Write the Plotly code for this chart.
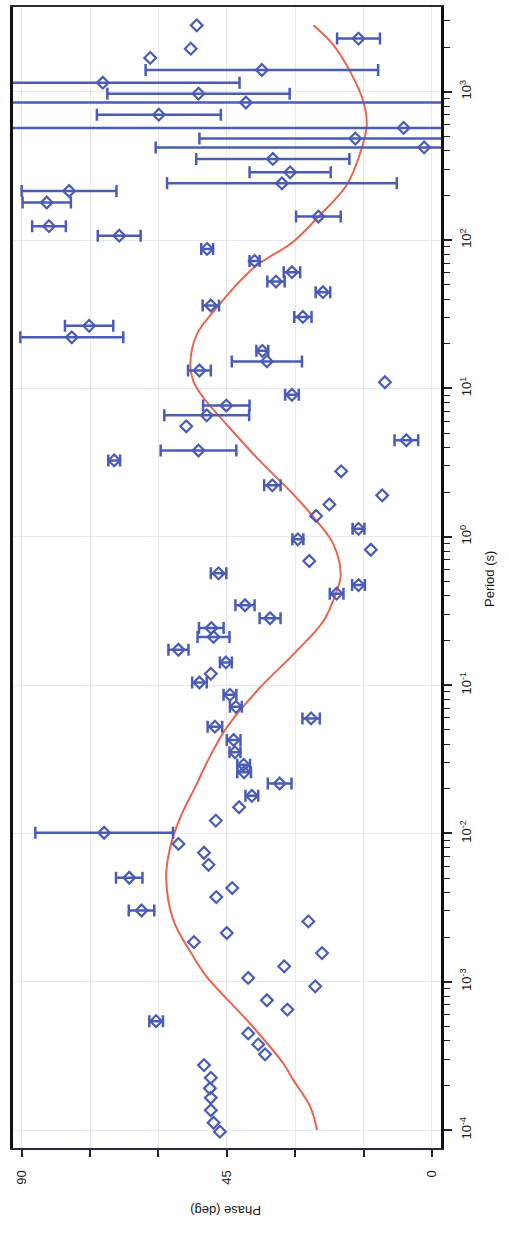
import plotly.graph_objects as go

# Measured phase vs. period, points carrying a phase uncertainty
period_err = [2280, 1400, 1150, 970, 845, 700, 570, 483, 421, 352, 286, 241, 214,
              179, 124, 107, 144, 87.1, 72.3, 60.7, 52.5, 44.5, 36.2, 30.3, 26.4,
              22.1, 17.9, 15.2, 13.2, 9.06, 7.66, 6.58, 4.47, 3.81, 3.27, 2.22,
              1.13, 0.96, 0.566, 0.472, 0.413, 0.345, 0.282, 0.242, 0.211, 0.173,
              0.142, 0.104, 0.0859, 0.0713, 0.0596, 0.0524, 0.0426, 0.0352, 0.0290,
              0.0258, 0.0217, 0.0179, 0.0101, 0.00502, 0.00302, 0.000542]
phase_err = [16.1, 37.3, 72.2, 51.2, 40.8, 59.9, 6.2, 16.8, 1.7, 34.9, 31.1, 32.9, 79.6,
             84.5, 84.0, 68.6, 24.9, 49.3, 38.9, 30.7, 34.2, 23.9, 48.5, 28.3, 75.2,
             79.0, 37.2, 36.2, 51.0, 30.7, 45.1, 49.4, 5.6, 51.2, 69.7, 35.0,
             16.1, 29.4, 46.8, 16.1, 20.9, 41.0, 35.5, 48.4, 47.9, 55.6,
             45.2, 51.0, 44.3, 43.0, 26.5, 47.6, 43.5, 43.2, 41.3,
             41.2, 33.4, 39.5, 71.9, 66.4, 63.7, 60.5]
phase_unc = [4.7, 25.5, 30.0, 20.0, 60.0, 13.6, 95.0, 34.2, 58.9, 16.8, 8.9, 25.2, 10.4,
             5.3, 3.7, 4.7, 4.9, 1.3, 1.1, 1.8, 1.9, 1.6, 1.8, 1.9, 5.3,
             11.3, 1.3, 7.7, 2.5, 1.5, 5.1, 9.3, 2.6, 8.3, 1.3, 1.8,
             1.3, 1.2, 1.7, 1.4, 1.5, 2.1, 2.3, 2.7, 3.5, 2.2,
             1.3, 1.6, 1.4, 1.3, 1.9, 1.6, 1.5, 1.2, 1.4,
             1.5, 2.6, 1.4, 15.1, 2.9, 2.8, 1.5]

# Measured phase vs. period, points without an uncertainty
period_pts = [2800, 1950, 1690, 11.0, 5.55, 2.76, 1.90, 1.65, 1.38, 0.817, 0.686,
              0.119, 0.0150, 0.0122, 0.00849, 0.00740, 0.00614, 0.00428, 0.00372,
              0.00255, 0.00213, 0.00185, 0.00156, 0.00127, 0.00106, 0.000931,
              0.000750, 0.000649, 0.000448, 0.000378, 0.000324, 0.000274, 0.000225,
              0.000191, 0.000165, 0.000136, 0.000112, 0.0000975]
phase_pts = [51.6, 52.9, 61.8, 10.3, 53.9, 19.9, 10.9, 22.5, 25.4, 13.4, 26.9,
             48.5, 42.3, 47.4, 55.6, 50.0, 49.0, 43.8, 47.3,
             27.1, 45.0, 52.2, 24.1, 32.4, 40.3, 25.6,
             36.2, 31.7, 40.3, 38.1, 36.6, 50.0, 48.5,
             48.7, 48.5, 48.5, 47.9, 46.5]

# Model response curve
period_fit = [1.0e-4, 1.44e-4, 2.17e-4, 2.81e-4, 5.22e-4, 1.08e-3, 1.47e-3, 2.59e-3,
              5.07e-3, 8.05e-3, 1.28e-2, 2.15e-2, 2.95e-2, 5.18e-2, 0.0962, 0.161,
              0.270, 0.431, 0.55, 0.887, 1.27, 1.93, 3.23, 5.70, 8.61, 11.1, 14.5,
              23.0, 33.0, 64.6, 97.5, 148, 235, 414, 596, 853, 1360, 2060, 2800]
phase_fit = [25.2, 26.7, 30.4, 32.6, 39.9, 49.4, 52.3, 56.7,
             58.3, 57.4, 55.2, 51.6, 49.5, 45.0, 37.7, 30.4,
             23.8, 20.9, 20.0, 21.6, 25.2, 30.4, 37.7, 45.0, 50.1, 52.3, 53.0,
             51.6, 47.9, 39.2, 30.4, 24.5, 18.7, 15.4, 14.3, 15.0, 17.9, 21.6, 26.0]

# Axis ticks
phase_ticks = [0, 15, 30, 45, 60, 75, 90]
phase_ticktext = ["0", "", "", "45", "", "", "90"]
period_ticks = [1e-4, 1e-3, 1e-2, 1e-1, 1e0, 1e1, 1e2, 1e3]
period_ticktext = ["10<sup>-4</sup>", "10<sup>-3</sup>", "10<sup>-2</sup>",
                   "10<sup>-1</sup>", "10<sup>0</sup>", "10<sup>1</sup>",
                   "10<sup>2</sup>", "10<sup>3</sup>"]
period_minor = [m * d for d in [1e-4, 1e-3, 1e-2, 1e-1, 1e0, 1e1, 1e2, 1e3]
                for m in range(2, 10)]

BLUE = "#4a5cb6"
RED = "#e8654f"
FONT = "Liberation Sans, Arial, sans-serif"

fig = go.Figure()

fig.add_trace(go.Scatter(
    x=phase_fit, y=period_fit, mode="lines", line_shape="spline",
    line=dict(color=RED, width=2), hoverinfo="skip", showlegend=False,
))

fig.add_trace(go.Scatter(
    x=phase_err, y=period_err, mode="markers",
    marker=dict(symbol="diamond-open", size=9, color=BLUE,
                line=dict(color=BLUE, width=2.2)),
    error_x=dict(type="data", array=phase_unc, symmetric=True,
                 color=BLUE, thickness=2.5, width=6),
    showlegend=False,
))

fig.add_trace(go.Scatter(
    x=phase_pts, y=period_pts, mode="markers",
    marker=dict(symbol="diamond-open", size=9, color=BLUE,
                line=dict(color=BLUE, width=2.2)),
    showlegend=False,
))

fig.update_layout(
    width=509, height=1234,
    margin=dict(l=13, r=68, t=5, b=86),
    paper_bgcolor="white", plot_bgcolor="white",
    font=dict(family=FONT, size=13, color="#1a1a1a"),
    xaxis=dict(
        range=[91.9, -2.0],
        tickvals=phase_ticks, ticktext=phase_ticktext, tickangle=-90,
        ticks="outside", ticklen=7, tickwidth=1.5, tickcolor="#222",
        ticklabelstandoff=8,
        showline=True, linecolor="#2a2a3a", linewidth=2, mirror=True,
        showgrid=True, gridcolor="#e8e9f0", gridwidth=1,
        zeroline=False,
        tickfont=dict(family=FONT, size=13, color="#1a1a1a"),
    ),
    yaxis=dict(
        type="log", range=[-4.121, 3.571], side="right",
        tickvals=period_ticks, ticktext=period_ticktext, tickangle=-90,
        ticks="outside", ticklen=8, tickwidth=1.5, tickcolor="#222",
        ticklabelstandoff=4,
        minor=dict(tickvals=period_minor, ticks="outside", ticklen=6,
                   tickwidth=1.2, tickcolor="#222", showgrid=False),
        showline=True, linecolor="#111", linewidth=2.5, mirror=True,
        showgrid=True, gridcolor="#e8e9f0", gridwidth=1,
        zeroline=False,
        tickfont=dict(family=FONT, size=13, color="#1a1a1a"),
    ),
    annotations=[
        dict(text="Phase (deg)", xref="paper", yref="paper",
             x=(226 - 13) / 428, y=-(1210 - 1148) / 1143,
             showarrow=False, textangle=180,
             font=dict(family=FONT, size=13, color="#1a1a1a"),
             xanchor="center", yanchor="middle"),
        dict(text="Period (s)", xref="paper", yref="paper",
             x=(490 - 13) / 428, y=(1148 - 578) / 1143,
             showarrow=False, textangle=-90,
             font=dict(family=FONT, size=13, color="#1a1a1a"),
             xanchor="center", yanchor="middle"),
    ],
)

fig.write_html("out.html")
